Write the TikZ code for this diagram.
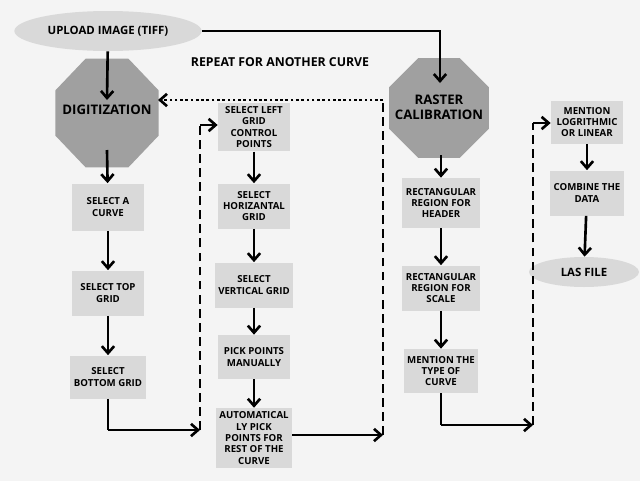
\documentclass[tikz,border=0pt]{standalone}
\usepackage{fontspec}
\setmainfont{Open Sans}
\usetikzlibrary{shapes.geometric,arrows.meta}
\definecolor{bg}{HTML}{F4F4F4}
\definecolor{bx}{HTML}{D9D9D9}
\definecolor{oct}{HTML}{A0A0A0}
\begin{document}
\begin{tikzpicture}[x=0.02cm,y=-0.02cm,
 box/.style={fill=bx,draw=none,minimum width=72*0.02cm,align=center,font=\fontsize{5.5}{6.5}\selectfont\bfseries,inner sep=2pt},
 octa/.style={regular polygon,regular polygon sides=8,fill=oct,draw=none,font=\fontsize{7.5}{8.5}\selectfont\bfseries,align=center},
 ell/.style={ellipse,fill=bx,draw=none,font=\fontsize{6.5}{7.5}\selectfont\bfseries},
 ar/.style={line width=1.5pt,-{Straight Barb[length=4pt,width=7pt]}},
 ln/.style={line width=1.5pt},
 dsh/.style={line width=1.5pt,dash pattern=on 5pt off 3pt},
 dot/.style={line width=1.5pt,dash pattern=on 1.5pt off 1.5pt}]
\fill[bg] (0,0) rectangle (640,481);
\useasboundingbox (0,0) rectangle (640,481);
\node[ell,minimum width=145*0.02cm,minimum height=40*0.02cm] (up) at (108,31) {UPLOAD IMAGE (TIFF)};
\node[octa,minimum size=112*0.02cm,yscale=1.05] (dig) at (107,113) {};
\node[font=\fontsize{7.5}{8.5}\selectfont\bfseries] at (107,110) {DIGITIZATION};
\node[octa,minimum size=108*0.02cm] (ras) at (439,108) {};
\node[font=\fontsize{7.5}{8.5}\selectfont\bfseries,align=center] at (439,107) {RASTER\\CALIBRATION};
\node[box,minimum height=47*0.02cm] (c1) at (108,207) {SELECT A\\CURVE};
\node[box,minimum height=45*0.02cm] (c2) at (108,293) {SELECT TOP\\GRID};
\node[box,minimum height=43*0.02cm] (c3) at (108,377) {SELECT\\BOTTOM GRID};
\node[box,minimum height=43*0.02cm] (l1) at (254,127) {SELECT LEFT\\GRID\\CONTROL\\POINTS};
\node[box,minimum height=45*0.02cm] (l2) at (254,206) {SELECT\\HORIZANTAL\\GRID};
\node[box,minimum height=45*0.02cm] (l3) at (254,285) {SELECT\\VERTICAL GRID};
\node[box,minimum height=44*0.02cm] (l4) at (254,357) {PICK POINTS\\MANUALLY};
\node[box,minimum height=57*0.02cm] (l5) at (254,438) {AUTOMATICAL\\LY PICK\\POINTS FOR\\REST OF THE\\CURVE};
\node[box,minimum height=50*0.02cm] (r1) at (441,203) {RECTANGULAR\\REGION FOR\\HEADER};
\node[box,minimum height=45*0.02cm] (r2) at (441,288) {RECTANGULAR\\REGION FOR\\SCALE};
\node[box,minimum height=44*0.02cm] (r3) at (441,371) {MENTION THE\\TYPE OF\\CURVE};
\node[box,minimum height=43*0.02cm] (m1) at (587,122) {MENTION\\LOGRITHMIC\\OR LINEAR};
\node[box,minimum height=45*0.02cm] (m2) at (587,193) {COMBINE THE\\DATA};
\node[ell,minimum width=110*0.02cm,minimum height=30*0.02cm] (las) at (584,272) {LAS FILE};
\node[font=\fontsize{7}{8}\selectfont\bfseries] (rep) at (280,62) {REPEAT FOR ANOTHER CURVE};
\coordinate (a1) at (108,430); \coordinate (a2) at (200,430); \coordinate (a3) at (200,125);
\coordinate (b1) at (383,435); \coordinate (b2) at (383,100); \coordinate (b3) at (158,100);
\coordinate (d1) at (441,425); \coordinate (d2) at (533,425); \coordinate (d3) at (533,123);
\coordinate (u1) at (440,31);
\draw[ar] (up) -- (107,100);
\draw[ar] (up.east) -- (u1) -- (440,83);
\draw[ar] (107,150) -- (c1);
\draw[ar] (c1) -- (c2);
\draw[ar] (c2) -- (c3);
\draw[ln] (c3) -- (a1); \draw[ar] (a1) -- (a2);
\draw[dsh] (a2) -- (a3); \draw[ar] (a3) -- (l1.west|-a3);
\draw[ar] (l1) -- (l2); \draw[ar] (l2) -- (l3); \draw[ar] (l3) -- (l4); \draw[ar] (l4) -- (l5);
\draw[ar] (l5.east|-b1) -- (b1);
\draw[dsh] (b1) -- (b2); \draw[dot,-{Straight Barb[length=4pt,width=7pt]}] (b2) -- (b3);
\draw[ar] (441,155) -- (r1);
\draw[ar] (r1) -- (r2); \draw[ar] (r2) -- (r3);
\draw[ln] (r3) -- (d1); \draw[ar] (d1) -- (d2);
\draw[dsh] (d2) -- (d3); \draw[ar] (d3) -- (m1.west|-d3);
\draw[ar] (m1) -- (m2); \draw[ar] (m2) -- (las);
\end{tikzpicture}
\end{document}
